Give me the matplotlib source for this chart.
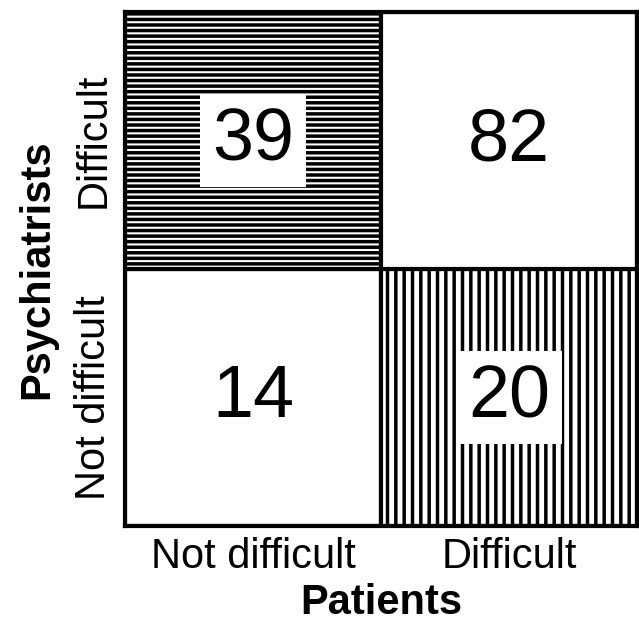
import numpy as np
import matplotlib.pyplot as plt

patients = ['Not difficult', 'Difficult']
psychiatrists = ['Not difficult', 'Difficult']
# counts[row][col], row = psychiatrists, col = patients
counts = [[14, 20],
          [39, 82]]
hatches = [['', '||'],
           ['---', '']]
boxed = [[False, True],
         [True, False]]

plt.rcParams['font.family'] = ['Liberation Sans', 'DejaVu Sans']
plt.rcParams['hatch.color'] = 'black'

fig = plt.figure(figsize=(6.39, 6.24), dpi=100)
ax = fig.add_axes([0.1956, 0.157, 0.801, 0.8237])

for r in range(2):
    for c in range(2):
        plt.rcParams['hatch.linewidth'] = 2.5
        ax.bar(c, 1, width=1, bottom=r - 0.5, color='white', edgecolor='black',
               hatch=hatches[r][c], linewidth=3, zorder=1)
        bbox = None
        if boxed[r][c]:
            bbox = dict(boxstyle='square,pad=0.16', facecolor='white', edgecolor='none')
        ax.text(c, r, str(counts[r][c]), ha='center', va='center', fontsize=53,
                bbox=bbox, zorder=3)

ax.set_xlim(-0.5, 1.5)
ax.set_ylim(-0.5, 1.5)
ax.set_xticks([0, 1])
ax.set_xticklabels(patients, fontsize=30)
ax.set_yticks([0, 1])
ax.set_yticklabels(psychiatrists, fontsize=30, rotation=90, va='center')
ax.tick_params(length=0, pad=8)
for s in ax.spines.values():
    s.set_linewidth(3)
ax.set_xlabel('Patients', fontsize=30, fontweight='bold', labelpad=4)
ax.set_ylabel('Psychiatrists', fontsize=30, fontweight='bold', labelpad=12)

fig.savefig('out.png', dpi=100)
